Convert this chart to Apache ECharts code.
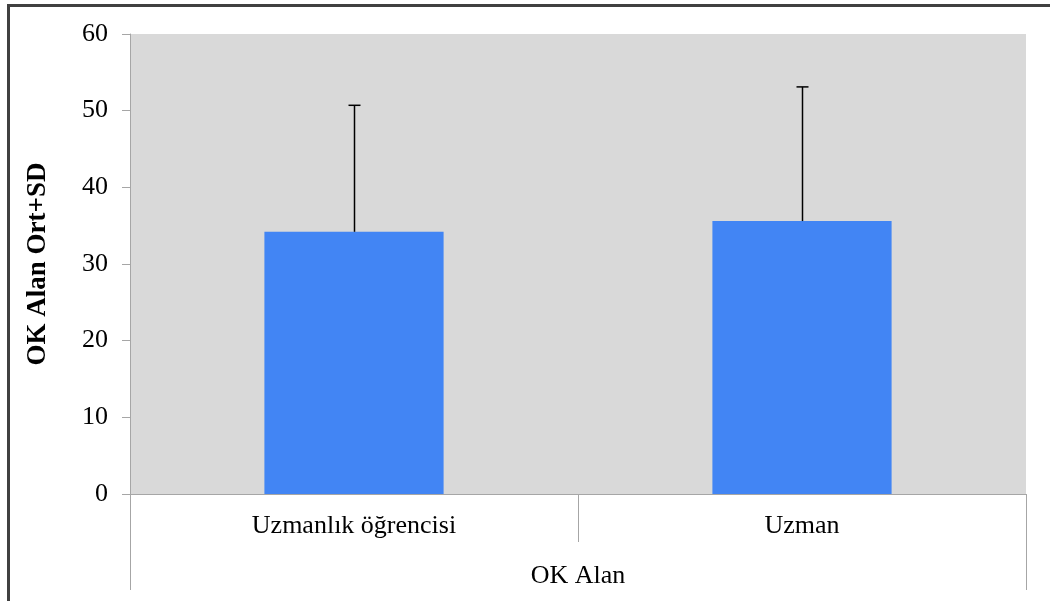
<!DOCTYPE html>
<html>
<head>
<meta charset="utf-8">
<script src="https://cdn.jsdelivr.net/npm/echarts@6/dist/echarts.min.js"></script>
<style>
html,body{margin:0;padding:0;background:#fff;}
#chart{width:1050px;height:601px;position:relative;}
#frame{position:absolute;left:7px;top:4px;width:1100px;height:700px;border-left:3px solid #404040;border-top:3px solid #404040;pointer-events:none;}
</style>
</head>
<body>
<div id="chart"></div>
<div id="frame"></div>
<script>
var categories = ['Uzmanlık öğrencisi', 'Uzman'];
var groupLabel = ['OK Alan'];
var means = [34.2, 35.6];
var upperSD = [50.7, 53.1];
var yTicks = { min: 0, max: 60, interval: 10 };
var yTitle = 'OK Alan Ort+SD';

var chart = echarts.init(document.getElementById('chart'));
var font = '"Liberation Serif", "Times New Roman", serif';
chart.setOption({
  animation: false,
  grid: { left: 130, right: 24, top: 34, bottom: 107, show: true, backgroundColor: '#d9d9d9', borderWidth: 0 },
  xAxis: [{
    type: 'category', data: categories,
    axisLine: { lineStyle: { color: '#a6a6a6', width: 1 } },
    axisTick: { show: true, length: 48, lineStyle: { color: '#a6a6a6' } },
    axisLabel: { color: '#000', fontFamily: font, fontSize: 26, margin: 19 }
  }, {
    type: 'category', data: groupLabel, position: 'bottom',
    axisLine: { show: false },
    axisTick: { show: true, length: 96, lineStyle: { color: '#a6a6a6' } },
    axisLabel: { color: '#000', fontFamily: font, fontSize: 26, margin: 69 }
  }],
  yAxis: {
    type: 'value', min: yTicks.min, max: yTicks.max, interval: yTicks.interval,
    name: yTitle, nameLocation: 'middle', nameGap: 78,
    nameTextStyle: { color: '#000', fontFamily: font, fontSize: 27, fontWeight: 'bold' },
    axisLine: { show: true, lineStyle: { color: '#a6a6a6' } },
    axisTick: { show: true, length: 8, lineStyle: { color: '#a6a6a6' } },
    axisLabel: { color: '#000', fontFamily: font, fontSize: 26, margin: 22 },
    splitLine: { show: false }
  },
  series: [{
    type: 'bar', data: means, barWidth: '40%', xAxisIndex: 0,
    itemStyle: { color: '#4285f4' }
  }, {
    type: 'custom', xAxisIndex: 0,
    data: categories.map(function (c, i) { return [i, means[i], upperSD[i]]; }),
    renderItem: function (params, api) {
      var base = api.coord([api.value(0), api.value(1)]);
      var top = api.coord([api.value(0), api.value(2)]);
      var x = Math.round(base[0]) + 0.5;
      var half = 6;
      return {
        type: 'group',
        children: [
          { type: 'line', shape: { x1: x, y1: base[1], x2: x, y2: top[1] }, style: { stroke: '#000', lineWidth: 1.5 } },
          { type: 'line', shape: { x1: x - half, y1: top[1], x2: x + half, y2: top[1] }, style: { stroke: '#000', lineWidth: 1.5 } }
        ]
      };
    },
    z: 5
  }]
});
</script>
</body>
</html>
